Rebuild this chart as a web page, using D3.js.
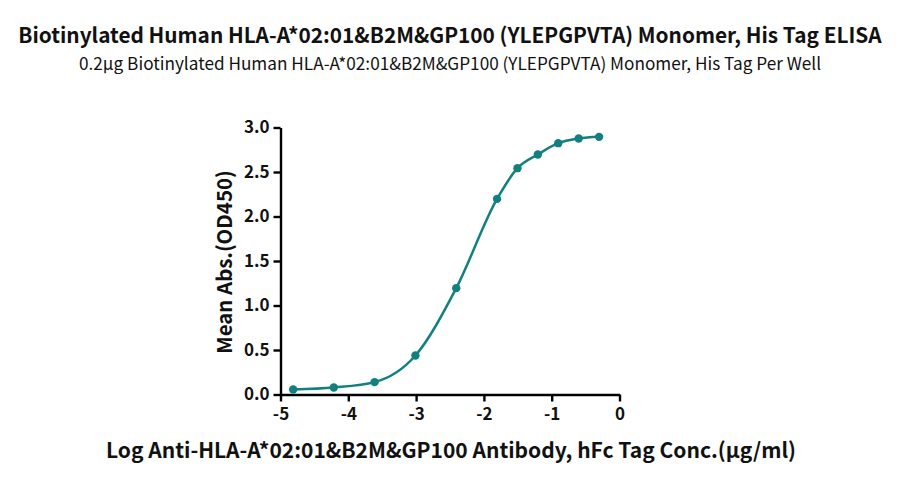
<!DOCTYPE html>
<html>
<head>
<meta charset="utf-8">
<script src="https://cdn.jsdelivr.net/npm/d3@7"></script>
<style>
  body { margin: 0; background: #fff; }
  svg { display: block; }
  text { font-family: "Noto Sans CJK SC", "Noto Sans", sans-serif; }
</style>
</head>
<body>
<svg id="chart" width="900" height="483"></svg>
<script>
const titleText = "Biotinylated Human HLA-A*02:01&B2M&GP100 (YLEPGPVTA) Monomer, His Tag ELISA";
const subtitleText = "0.2μg Biotinylated Human HLA-A*02:01&B2M&GP100 (YLEPGPVTA) Monomer, His Tag Per Well";
const xTitle = "Log Anti-HLA-A*02:01&B2M&GP100 Antibody, hFc Tag Conc.(μg/ml)";
const yTitle = "Mean Abs.(OD450)";

const logConc = [-4.813, -4.214, -3.612, -3.010, -2.408, -1.806, -1.505, -1.204, -0.903, -0.602, -0.301];
const meanAbs = [0.056, 0.079, 0.139, 0.438, 1.195, 2.198, 2.543, 2.697, 2.824, 2.876, 2.895];
const xTicks = [-5, -4, -3, -2, -1, 0];
const yTicks = [0.0, 0.5, 1.0, 1.5, 2.0, 2.5, 3.0];

const color = "#138080";
const svg = d3.select("#chart");

const x = d3.scaleLinear().domain([-5, 0]).range([280.5, 619.5]);
const y = d3.scaleLinear().domain([0, 3]).range([394.5, 127.5]);

svg.append("text").attr("x", 450).attr("y", 43).attr("text-anchor", "middle")
  .attr("font-size", 20.8).attr("font-weight", "bold").attr("fill", "#111").text(titleText);
svg.append("text").attr("x", 450).attr("y", 70).attr("text-anchor", "middle")
  .attr("font-size", 17.2).attr("fill", "#111").text(subtitleText);

const xAxis = svg.append("g").attr("transform", "translate(0,394.5)")
  .call(d3.axisBottom(x).tickValues(xTicks).tickSize(7).tickSizeOuter(0).tickPadding(6).tickFormat(d3.format("d")));
const yAxis = svg.append("g").attr("transform", "translate(280.5,0)")
  .call(d3.axisLeft(y).tickValues(yTicks).tickSize(7).tickSizeOuter(0).tickPadding(4).tickFormat(d3.format(".1f")));

[xAxis, yAxis].forEach(g => {
  g.selectAll("path.domain").attr("stroke", "#000").attr("stroke-width", 2.4);
  g.selectAll(".tick line").attr("stroke", "#000").attr("stroke-width", 2.4);
  g.selectAll(".tick text").attr("font-size", 17).attr("font-weight", "bold").attr("fill", "#111")
    .style("font-family", '"Noto Sans CJK SC", "Noto Sans", sans-serif');
});
xAxis.selectAll(".tick text").text(d => d < 0 ? "-" + Math.abs(d) : d);

const pts = logConc.map((v, i) => [v, meanAbs[i]]);
const line = d3.line().x(d => x(d[0])).y(d => y(d[1])).curve(d3.curveMonotoneX);
svg.append("path").datum(pts).attr("d", line).attr("fill", "none")
  .attr("stroke", color).attr("stroke-width", 2.5);

svg.append("g").selectAll("circle").data(pts).join("circle")
  .attr("cx", d => x(d[0])).attr("cy", d => y(d[1])).attr("r", 4.2).attr("fill", color);

svg.append("text").attr("transform", "translate(232,262) rotate(-90)").attr("text-anchor", "middle")
  .attr("font-size", 20.4).attr("font-weight", "bold").attr("fill", "#111").text(yTitle);
svg.append("text").attr("x", 451).attr("y", 458).attr("text-anchor", "middle")
  .attr("font-size", 21).attr("font-weight", "bold").attr("fill", "#111").text(xTitle);
</script>
</body>
</html>
